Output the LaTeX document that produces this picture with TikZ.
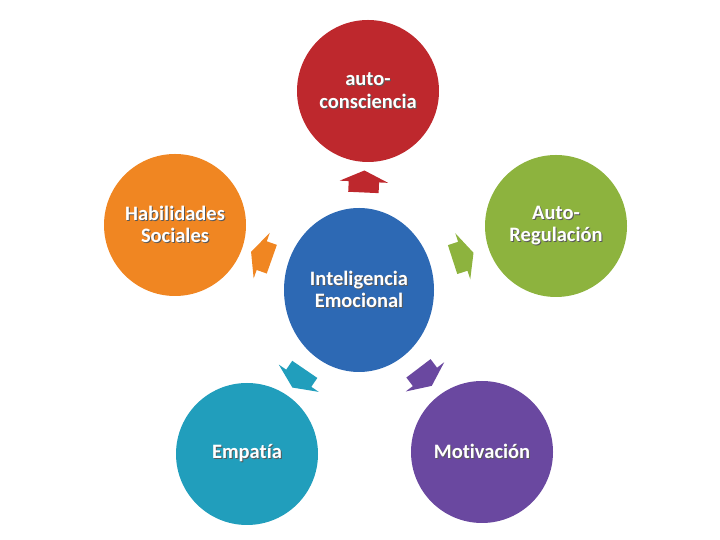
\documentclass[tikz,border=0pt]{standalone}
\usepackage{fontspec}
\setmainfont{Carlito}[Ligatures=NoCommon]
\usetikzlibrary{shapes.geometric, shapes.arrows}

\definecolor{rojo}{RGB}{190,40,45}
\definecolor{verde}{RGB}{141,179,62}
\definecolor{naranja}{RGB}{240,134,34}
\definecolor{azul}{RGB}{45,105,180}
\definecolor{turquesa}{RGB}{33,158,188}
\definecolor{morado}{RGB}{106,72,160}

% white text with a small dark shadow
\newcommand{\sombra}[1]{\makebox[0pt][l]{\hspace{1pt}\raisebox{-1pt}{\textcolor{black!65}{#1}}}#1}

\tikzstyle{bubble} = [circle,
minimum size=142pt,
inner sep=0pt,
text=white,
align=center,
font=\bfseries\fontsize{20.5}{22.5}\selectfont]
\tikzstyle{centro} = [ellipse,
minimum width=150pt,
minimum height=164pt,
inner sep=0pt,
fill=azul,
text=white,
align=center,
font=\bfseries\fontsize{20.5}{22.5}\selectfont]
\tikzstyle{flecha} = [single arrow,
single arrow head extend=9pt,
single arrow tip angle=130,
minimum height=22pt,
inner xsep=0pt, inner ysep=15pt,
midway, sloped, allow upside down]

\begin{document}
\begin{tikzpicture}[x=1pt, y=1pt]
\useasboundingbox (0,0) rectangle (720,540);

\node (emo) [centro] at (359,250) {\sombra{Inteligencia}\\ \sombra{Emocional}};

\node (auto) [bubble, fill=rojo, above of=emo, node distance=199pt, xshift=9pt] {\sombra{auto-}\\ \sombra{consciencia}};
\node (reg) [bubble, fill=verde, right of=emo, node distance=197pt, yshift=64pt] {\sombra{Auto-}\\ \sombra{Regulación}};
\node (hab) [bubble, fill=naranja, left of=emo, node distance=184pt, yshift=65pt] {\sombra{Habilidades}\\ \sombra{Sociales}};
\node (emp) [bubble, fill=turquesa, below of=emo, node distance=164pt, xshift=-112pt] {\sombra{Empatía}};
\node (mot) [bubble, fill=morado, below of=emo, node distance=162pt, xshift=123pt] {\sombra{Motivación}};

\path (emo) -- (auto) node [flecha, fill=rojo] {};
\path (emo) -- (reg) node [flecha, fill=verde] {};
\path (emo) -- (hab) node [flecha, fill=naranja] {};
\path (emo) -- (emp) node [flecha, fill=turquesa] {};
\path (emo) -- (mot) node [flecha, fill=morado] {};

\end{tikzpicture}
\end{document}
